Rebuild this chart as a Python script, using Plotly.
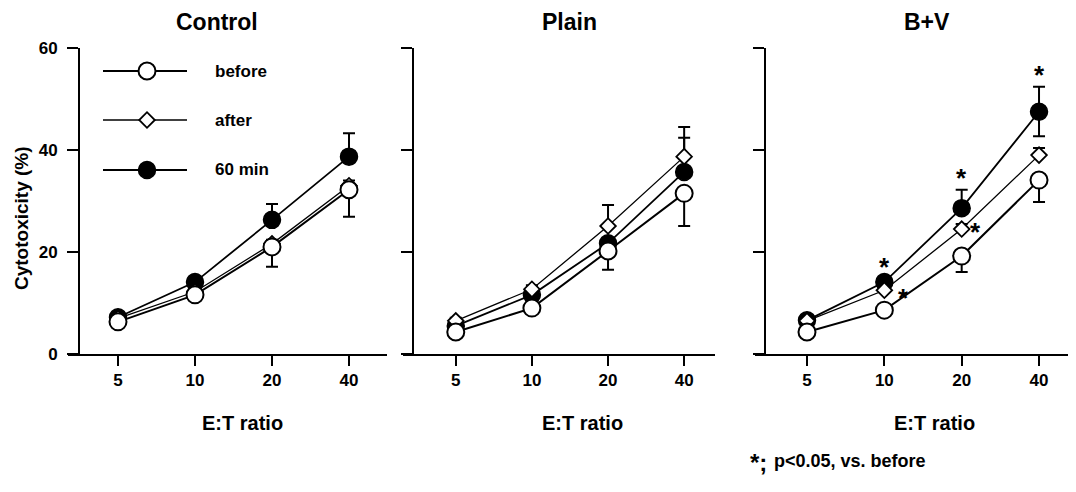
import math
import plotly.graph_objects as go

# ---------------- data ----------------
et_ratio = [5, 10, 20, 40]
et_labels = ["5", "10", "20", "40"]
panels = ["Control", "Plain", "B+V"]
series_names = ["before", "after", "60 min"]

# Control
ctrl_before = [6.3, 11.6, 21.0, 32.2]
ctrl_after = [7.0, 12.2, 21.6, 33.0]
ctrl_60 = [7.2, 14.1, 26.3, 38.7]
ctrl_before_err_lo = [0.6, 0.8, 3.9, 5.3]
ctrl_after_err_up = [0.5, 0.6, 0.8, 1.0]
ctrl_60_err_up = [0.6, 0.8, 3.1, 4.6]

# Plain
plain_before = [4.3, 9.0, 20.2, 31.5]
plain_after = [6.5, 12.7, 25.1, 38.7]
plain_60 = [5.5, 11.6, 21.7, 35.7]
plain_before_err_lo = [0.6, 0.8, 3.7, 6.4]
plain_after_err_up = [0.6, 0.8, 4.1, 5.8]
plain_60_err_up = [0.6, 0.8, 1.0, 6.7]

# B+V
bv_before = [4.3, 8.6, 19.2, 34.1]
bv_after = [6.5, 12.5, 24.5, 39.0]
bv_60 = [6.6, 14.1, 28.6, 47.5]
bv_before_err_lo = [0.6, 0.8, 3.1, 4.3]
bv_after_err_up = [0.6, 0.8, 1.0, 1.4]
bv_60_err_up = [0.6, 1.0, 3.6, 4.9]
bv_60_err_lo = [0.0, 0.0, 0.0, 4.8]

# significance markers (B+V panel)
sig_x = [10, 10, 20, 20, 40]
sig_y = [18.0, 12.0, 35.5, 24.9, 55.7]
sig_dx = [0, 19, 0, 14, 0]

# ---------------- figure ----------------
W, H = 1076, 492
OX, OY = 8, 8  # page body margin offset
FONT = "Liberation Sans, Arial, Helvetica, sans-serif"


def px(x):
    return (x - OX) / W


def py(y):
    return (H - (y - OY)) / H


fig = go.Figure()

data = [
    (ctrl_before, ctrl_after, ctrl_60, ctrl_before_err_lo, ctrl_after_err_up, ctrl_60_err_up, None),
    (plain_before, plain_after, plain_60, plain_before_err_lo, plain_after_err_up, plain_60_err_up, None),
    (bv_before, bv_after, bv_60, bv_before_err_lo, bv_after_err_up, bv_60_err_up, bv_60_err_lo),
]

for i, (bef, aft, m60, bef_lo, aft_up, m60_up, m60_lo) in enumerate(data):
    sfx = "" if i == 0 else str(i + 1)
    xa, ya = "x" + sfx, "y" + sfx
    zeros = [0, 0, 0, 0]
    fig.add_trace(go.Scatter(
        x=et_ratio, y=m60, xaxis=xa, yaxis=ya, mode="lines+markers",
        line=dict(color="black", width=1.8),
        marker=dict(symbol="circle", size=17, color="black", line=dict(color="black", width=1.5)),
        error_y=dict(type="data", symmetric=False, array=m60_up,
                     arrayminus=m60_lo if m60_lo else zeros,
                     color="black", thickness=2, width=6),
        showlegend=False, cliponaxis=False, name="60 min"))
    fig.add_trace(go.Scatter(
        x=et_ratio, y=aft, xaxis=xa, yaxis=ya, mode="lines+markers",
        line=dict(color="black", width=1.3),
        marker=dict(symbol="diamond", size=12, color="white", line=dict(color="black", width=1.8)),
        error_y=dict(type="data", symmetric=False, array=aft_up, arrayminus=zeros,
                     color="black", thickness=2, width=6),
        showlegend=False, cliponaxis=False, name="after"))
    fig.add_trace(go.Scatter(
        x=et_ratio, y=bef, xaxis=xa, yaxis=ya, mode="lines+markers",
        line=dict(color="black", width=2),
        marker=dict(symbol="circle", size=17, color="white", line=dict(color="black", width=2)),
        error_y=dict(type="data", symmetric=False, array=zeros, arrayminus=bef_lo,
                     color="black", thickness=2, width=6),
        showlegend=False, cliponaxis=False, name="before"))

# axes geometry (screen pixels)
x_dom = [(68, 387), (403, 715), (755, 1076)]
x_rng = [(0.5035, 1.7506), (0.4903, 1.724), (0.4966, 1.746)]
y_pos = [79, 413, 765]
y_dom = [py(354), py(48)]

tickfont = dict(family=FONT, size=17, color="black", weight="bold")
for i in range(3):
    sfx = "" if i == 0 else str(i + 1)
    fig.layout["xaxis" + sfx] = dict(
        domain=[px(x_dom[i][0]), min(1.0, px(x_dom[i][1]))], type="log",
        range=list(x_rng[i]), anchor="y" + sfx,
        tickvals=et_ratio, ticktext=et_labels, ticks="outside", ticklen=10,
        tickwidth=2, tickcolor="black", showline=True, linewidth=2, linecolor="black",
        showgrid=False, zeroline=False, tickfont=tickfont, fixedrange=True)
    fig.layout["yaxis" + sfx] = dict(
        domain=y_dom, range=[0, 60], anchor="free", position=px(y_pos[i]),
        tickvals=[0, 20, 40, 60], ticks="outside", ticklen=11, tickwidth=2,
        tickcolor="black", showline=True, linewidth=2, linecolor="black",
        showgrid=False, zeroline=False, showticklabels=(i == 0),
        tickfont=tickfont, ticklabelstandoff=6, fixedrange=True)

# overlay axis in screen-pixel units for the hand-drawn legend
fig.layout["xaxis4"] = dict(domain=[0, 1], range=[OX, W + OX], visible=False, anchor="y4", fixedrange=True)
fig.layout["yaxis4"] = dict(domain=[0, 1], range=[H + OY, OY], visible=False, anchor="x4", fixedrange=True)

leg_rows = [71, 120, 170]
leg_styles = [
    dict(symbol="circle", size=17, color="white", line=dict(color="black", width=2)),
    dict(symbol="diamond", size=12, color="white", line=dict(color="black", width=1.8)),
    dict(symbol="circle", size=17, color="black", line=dict(color="black", width=1.5)),
]
leg_lw = [2, 1.3, 1.8]
for name, yy, ms, lw in zip(series_names, leg_rows, leg_styles, leg_lw):
    fig.add_trace(go.Scatter(x=[103, 187], y=[yy, yy], xaxis="x4", yaxis="y4", mode="lines",
                             line=dict(color="black", width=lw), showlegend=False, hoverinfo="skip"))
    fig.add_trace(go.Scatter(x=[147], y=[yy], xaxis="x4", yaxis="y4", mode="markers",
                             marker=ms, showlegend=False, hoverinfo="skip"))
    fig.add_annotation(x=px(213), y=py(yy), xref="paper", yref="paper", text=name,
                       showarrow=False, xanchor="left", yanchor="middle",
                       font=dict(family=FONT, size=17, color="black", weight="bold"))

# panel titles
for t, cx in zip(panels, [217, 569, 927]):
    fig.add_annotation(x=px(cx), y=py(22), xref="paper", yref="paper", text=t,
                       showarrow=False, xanchor="center", yanchor="middle",
                       font=dict(family=FONT, size=23, color="black", weight="bold"))

# x-axis titles
for cx in [242, 582, 934]:
    fig.add_annotation(x=px(cx), y=py(423), xref="paper", yref="paper", text="E:T ratio",
                       showarrow=False, xanchor="center", yanchor="middle",
                       font=dict(family=FONT, size=20, color="black", weight="bold"))

# y-axis title
fig.add_annotation(x=px(21), y=py(218), xref="paper", yref="paper", text="Cytotoxicity (%)",
                   showarrow=False, textangle=-90, xanchor="center", yanchor="middle",
                   font=dict(family=FONT, size=19, color="black", weight="bold"))

# significance asterisks (log axis -> annotation x in log10 units)
for sx, sy, dx in zip(sig_x, sig_y, sig_dx):
    fig.add_annotation(x=math.log10(sx), y=sy, xref="x3", yref="y3", text="*", showarrow=False,
                       xshift=dx, yshift=-5, xanchor="center", yanchor="middle",
                       font=dict(family=FONT, size=26, color="black", weight="bold"))

# footnote
fig.add_annotation(x=px(758), y=py(462), xref="paper", yref="paper", text="*;",
                   showarrow=False, xanchor="center", yanchor="middle",
                   font=dict(family=FONT, size=24, color="black", weight="bold"))
fig.add_annotation(x=px(772), y=py(461), xref="paper", yref="paper", text="p<0.05, vs. before",
                   showarrow=False, xanchor="left", yanchor="middle",
                   font=dict(family=FONT, size=18, color="black", weight="bold"))

fig.update_layout(width=W, height=H,
                  margin=dict(l=0, r=0, t=0, b=0, pad=0, autoexpand=False),
                  paper_bgcolor="white", plot_bgcolor="rgba(0,0,0,0)", showlegend=False)

fig.write_html("out.html")
